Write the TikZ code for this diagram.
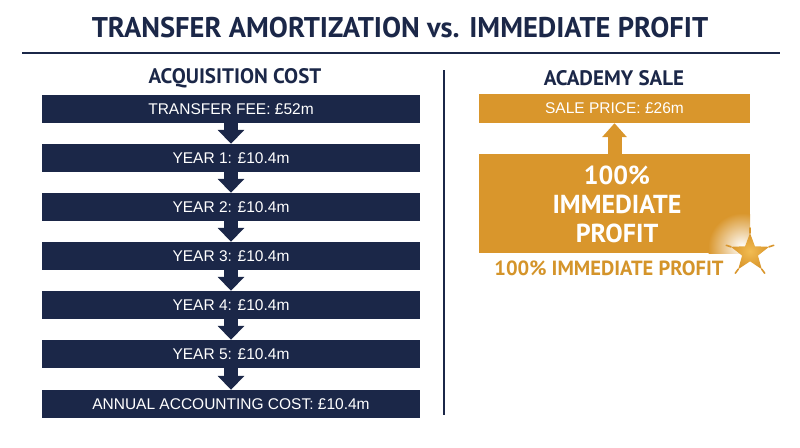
\documentclass[tikz,border=0pt]{standalone}
\usepackage{fontspec}
\setmainfont{Liberation Sans}
\newfontfamily\headfont{PT Sans}
\usepackage{tikz}
\usetikzlibrary{arrows.meta,shapes.geometric}

\definecolor{navy}{HTML}{1B2748}
\definecolor{gold}{HTML}{D9962C}
\definecolor{goldtext}{HTML}{D4942A}
\definecolor{goldlight}{HTML}{F2BC52}

\tikzset{
  navybox/.style={fill=navy, text=white, minimum width=378pt, minimum height=28pt,
    inner sep=0pt, font=\fontsize{15.5}{18}\selectfont},
  goldbox/.style={fill=gold, text=white, minimum width=271pt, inner sep=0pt},
  heading/.style={text=navy, inner sep=0pt, font=\headfont\bfseries\fontsize{21}{24}\selectfont},
  downarrow/.style={draw=navy, line width=14pt, -{Triangle[width=26pt,length=14pt]}, shorten <=-1pt},
  uparrow/.style={draw=gold, line width=14pt, -{Triangle[width=24pt,length=14pt]}, shorten <=-1pt}
}

\begin{document}
\begin{tikzpicture}[x=1pt,y=-1pt]
\useasboundingbox (0,0) rectangle (800,447);

% title
\node[text=navy, inner sep=0pt, font=\headfont\bfseries\fontsize{28.5}{32}\selectfont] (title) at (400,28) {TRANSFER AMORTIZATION vs. IMMEDIATE PROFIT};
\draw[navy, line width=2pt] (22,53) -- (780,53);
\draw[navy, line width=1.6pt] (444,70) -- (444,415);

% left column
\node[heading] (acq) at (235,78) {ACQUISITION COST};
\node[navybox] (fee) at (231,109) {TRANSFER FEE: \pounds52m};
\node[navybox] (y1) at (231,158) {YEAR 1: \pounds10.4m};
\node[navybox] (y2) at (231,207) {YEAR 2: \pounds10.4m};
\node[navybox] (y3) at (231,256) {YEAR 3: \pounds10.4m};
\node[navybox] (y4) at (231,305) {YEAR 4: \pounds10.4m};
\node[navybox] (y5) at (231,354) {YEAR 5: \pounds10.4m};
\node[navybox] (annual) at (231,404) {ANNUAL ACCOUNTING COST: \pounds10.4m};

\draw[downarrow] (fee) -- (y1);
\draw[downarrow] (y1) -- (y2);
\draw[downarrow] (y2) -- (y3);
\draw[downarrow] (y3) -- (y4);
\draw[downarrow] (y4) -- (y5);
\draw[downarrow] (y5) -- (annual);

% right column
\node[heading] (academy) at (614,78) {ACADEMY SALE};
\node[goldbox, minimum height=29pt, font=\fontsize{15.5}{18}\selectfont] (sale) at (614.5,108.5) {SALE PRICE: \pounds26m};
\node[goldbox, minimum height=99pt] (profit) at (614.5,203.5) {};
\begin{scope}
\clip (profit.south west) rectangle (profit.north east);
\shade[inner color=white, outer color=gold] (742,247) circle (34);
\end{scope}
\node[text=white, align=center, inner sep=0pt, font=\headfont\bfseries\fontsize{26}{29}\selectfont] (profittext) at (617,204) {100\%\\IMMEDIATE\\PROFIT};
\draw[uparrow] (profit) -- (sale);

\node[text=goldtext, inner sep=0pt, font=\headfont\bfseries\fontsize{20.5}{24}\selectfont] (label) at (609,268) {100\% IMMEDIATE PROFIT};

% star
\node[star, star points=5, star point ratio=2.4, minimum size=40pt, inner sep=0pt,
  inner color=goldlight, outer color=gold, shading=radial] (burst) at (750,253) {};
\foreach \a in {54,126,198,270,342}
  \draw[gold, line width=1.6pt, line cap=round] (burst.center) ++(\a:20) -- ++(\a:5);
\end{tikzpicture}
\end{document}
